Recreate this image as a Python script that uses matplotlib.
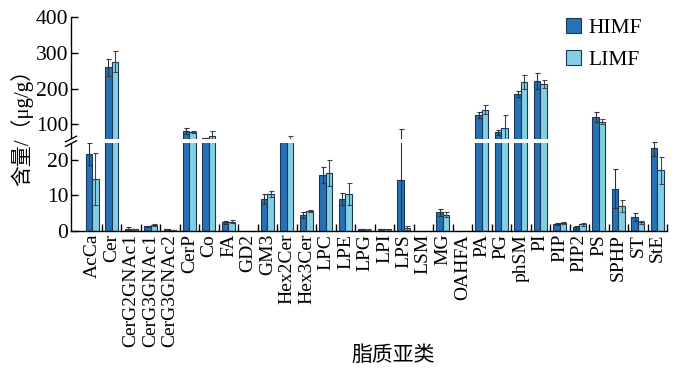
import numpy as np
import matplotlib
matplotlib.use("Agg")
import matplotlib.pyplot as plt

plt.rcParams['font.family'] = ['Liberation Serif', 'Noto Sans CJK SC', 'DejaVu Sans']
plt.rcParams['mathtext.fontset'] = 'stix'

categories = ["AcCa", "Cer", "CerG2GNAc1", "CerG3GNAc1", "CerG3GNAc2", "CerP", "Co", "FA",
              "GD2", "GM3", "Hex2Cer", "Hex3Cer", "LPC", "LPE", "LPG", "LPI", "LPS", "LSM",
              "MG", "OAHFA", "PA", "PG", "phSM", "PI", "PIP", "PIP2", "PS", "SPHP", "ST", "StE"]
himf = [21.6, 260, 0.7, 1.3, 0.5, 81, 60, 2.5, 0, 8.9, 45, 4.4, 15.7, 9.1, 0.5, 0.5, 14.2, 0,
        5.2, 0, 126, 76.5, 184, 222, 1.9, 1.1, 120, 11.9, 3.9, 23.4]
himf_err = [3.0, 24, 0.3, 0.2, 0.1, 8, 2, 0.4, 0, 1.4, 3, 0.8, 2.2, 1.7, 0.1, 0.1, 73, 0,
            1.1, 0, 8, 6, 9, 22, 0.3, 0.4, 15, 5.4, 1.2, 2.2]
limf = [14.6, 275, 0.5, 1.7, 0.3, 78, 67, 2.6, 0, 10.3, 57, 5.5, 16.2, 10.5, 0.4, 0.5, 0.8, 0,
        4.6, 0, 140, 90, 218, 213, 2.2, 1.9, 107, 7.0, 2.4, 17.1]
limf_err = [7.3, 30, 0.2, 0.2, 0.1, 4, 14, 0.4, 0, 0.8, 10, 0.3, 3.7, 3.1, 0.1, 0.1, 0.5, 0,
            0.8, 0, 13, 35, 20, 11, 0.3, 0.4, 7, 1.6, 0.4, 3.8]
series_names = ["HIMF", "LIMF"]
yticks = [0, 10, 20, 100, 200, 300, 400]

# broken axis: 0-25 linear, 50-400 compressed 10x
def fwd(y):
    y = np.asarray(y, dtype=float)
    return np.where(y <= 25, y, np.where(y <= 50, 25 + (y - 25) * 0.001, 25.025 + (y - 50) / 10.0))

def inv(t):
    t = np.asarray(t, dtype=float)
    return np.where(t <= 25, t, np.where(t <= 25.025, 25 + (t - 25) / 0.001, 50 + (t - 25.025) * 10.0))

fig = plt.figure(figsize=(6.8, 3.7), dpi=100)
ax = fig.add_axes([71/680, 1 - 231/370, (667-71)/680, (231-17.3)/370])
ax.set_yscale('function', functions=(fwd, inv))

x = np.arange(len(categories))
w = 0.333
c_h = '#2771b6'
c_l = '#84d0e3'
edge = '#1b3756'
hv = np.array(himf, float); he = np.array(himf_err, float)
lv = np.array(limf, float); le = np.array(limf_err, float)

ax.bar(x - w/2, hv, w, color=c_h, edgecolor=edge, linewidth=0.8, label=series_names[0], zorder=2)
ax.bar(x + w/2, lv, w, color=c_l, edgecolor=edge, linewidth=0.8, label=series_names[1], zorder=2)
mh = hv > 0
ml = lv > 0
ax.errorbar((x - w/2)[mh], hv[mh], yerr=he[mh], fmt='none', ecolor='#333333', elinewidth=0.8,
            capsize=1.8, capthick=0.8, zorder=3)
ax.errorbar((x + w/2)[ml], lv[ml], yerr=le[ml], fmt='none', ecolor='#444444', elinewidth=0.8,
            capsize=1.8, capthick=0.8, zorder=3)

ax.set_xlim(-1.08, len(categories) - 0.5)
ax.set_ylim(0, 400)
ax.set_yticks(yticks)
ax.set_yticklabels([str(v) for v in yticks], fontsize=15.5)
ax.set_xticks(x)
ax.set_xticklabels(categories, rotation=90, fontsize=14)
ax.set_xticks(np.arange(len(categories)) + 0.5, minor=True)
ax.tick_params(axis='x', which='major', length=0, pad=2)
ax.tick_params(axis='x', which='minor', direction='in', length=5, width=1)
ax.tick_params(axis='y', which='major', direction='in', length=5, width=1, pad=2)
ax.tick_params(axis='y', which='minor', length=0)
for s in ['top', 'right']:
    ax.spines[s].set_visible(False)
for s in ['left', 'bottom']:
    ax.spines[s].set_linewidth(1.0)

# white break band
ax.fill_between([-1.2, 23.5], 24.6, 57, color='white', zorder=4, clip_on=False, linewidth=0)
# break marks on the y axis
W = (667 - 71); H = (231 - 17.3)
yb = (231 - 141.3) / H
for dy in (-2.3, 2.3):
    ax.plot([-5.5 / W, 5.5 / W], [yb + (dy - 2.8) / H, yb + (dy + 2.8) / H], transform=ax.transAxes,
            color='black', lw=1.0, clip_on=False, zorder=6)

leg = ax.legend(loc='upper left', bbox_to_anchor=(0.83, 0.995), frameon=False, fontsize=15.5,
                handlelength=0.7, handleheight=0.7, handletextpad=0.35, labelspacing=0.55,
                borderaxespad=0, borderpad=0)

fig.text(22/680, 1 - 123/370, "含量/（μg/g）", rotation=90, ha='center', va='center', fontsize=15)
fig.text(393/680, 1 - 355/370, "脂质亚类", ha='center', va='center', fontsize=15,
         family=['Noto Sans CJK SC'])

fig.savefig("out.png", dpi=100)
